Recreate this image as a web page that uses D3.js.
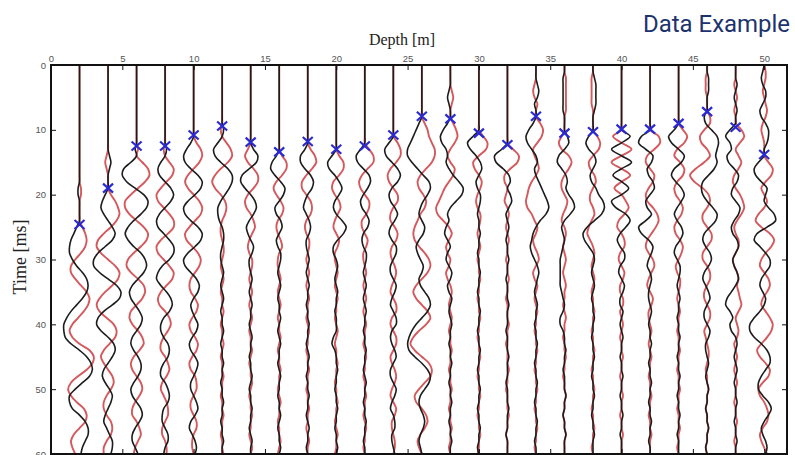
<!DOCTYPE html>
<html>
<head>
<meta charset="utf-8">
<script src="https://cdn.jsdelivr.net/npm/d3@7"></script>
<style>
  body { margin: 0; background: #fff; }
  svg { display: block; }
</style>
</head>
<body>
<svg width="795" height="455"></svg>
<script>
// receiver depths [m] and first-arrival picks [ms]
var depths = [2,4,6,8,10,12,14,16,18,20,22,24,26,28,30,32,34,36,38,40,42,44,46,48,50];
var pickTimes = [24.6,19,12.5,12.5,10.8,9.4,11.9,13.4,11.8,13,12.5,10.8,7.9,8.3,10.5,12.3,7.9,10.5,10.3,9.9,9.9,9,7.2,9.6,13.8];
var depthTicks = [0,5,10,15,20,25,30,35,40,45,50];
var timeTicks = [0,10,20,30,40,50,60];
// traces sampled every 1 ms from 0 to 60 ms, amplitude in tenths of a metre
var sampleTimes = d3.range(0, 61);

var blackTraces = [
  [0,0,0,0,0,0,0,0,0,0, 0,0,0,0,0,0,0,0,0,-1, -1,0,0,0,0,-2,-4,-6,-7,-7, -5,-2,2,5,6,5,2,-2,-6,-9, -11,-11,-10,-6,0,5,8,9,7,2, -3,-7,-7,-5,0,4,6,6,4,2, 1],
  [0,0,0,0,0,0,0,0,0,0, 0,0,0,0,1,2,1,0,0,0, -2,-4,-5,-3,0,3,5,3,-2,-7, -10,-10,-6,0,6,9,8,3,-3,-7, -8,-5,0,4,5,3,0,-3,-4,-2, 1,3,2,0,-2,-3,-1,1,3,3, 2],
  [0,0,0,0,0,0,0,0,0,0, 0,0,0,-1,0,-4,-9,-10,-7,-1, 5,8,7,3,-2,-6,-8,-6,-2,3, 6,7,5,1,-3,-5,-4,-1,2,4, 3,0,-3,-4,-2,1,3,3,1,-2, -4,-3,0,3,4,2,-1,-3,-3,-1, 1],
  [0,0,0,0,0,0,0,0,0,0, 0,0,0,1,0,-3,-5,-4,0,4, 6,4,0,-4,-6,-5,-1,3,6,6, 3,-2,-5,-6,-3,1,4,5,3,-1, -3,-3,-1,2,3,2,-1,-3,-3,0, 2,3,2,-1,-2,-2,0,2,2,0, -1],
  [0,0,0,0,0,0,0,0,0,0, 0,0,-2,-5,-7,-6,-2,3,6,5, 1,-4,-7,-6,-2,3,6,5,1,-4, -7,-6,-2,2,4,3,0,-2,-1,1, 3,2,-1,-3,-2,1,3,2,0,-2, -2,0,2,3,1,-2,-3,-1,1,2, 1],
  [0,0,0,0,0,0,0,0,0,0, 1,0,-3,-6,-5,-1,4,7,7,5, 2,-1,-3,-3,-2,0,1,1,0,-1, -1,0,1,0,-1,0,1,0,-1,0, 0,1,0,-1,0,0,1,0,0,-1, 0,0,1,0,0,-1,0,0,1,0, 0],
  [0,0,0,0,0,0,0,0,0,0, 0,0,0,2,5,4,-1,-6,-7,-4, 0,3,4,2,-1,-3,-2,0,2,1, -1,-1,0,1,0,-1,0,1,0,0, -1,0,1,0,0,-1,0,0,1,0, -1,0,0,1,0,0,-1,0,1,0, 0],
  [0,0,0,0,0,0,0,0,0,0, 0,0,0,0,-2,-5,-6,-3,1,4, 3,0,-3,-2,1,2,0,-2,-1,1, 1,0,-1,0,1,0,-1,0,0,1, 0,-1,0,1,0,0,-1,0,1,0, 0,-1,0,0,1,0,-1,0,0,1, 0],
  [0,0,0,0,0,0,0,0,0,0, 0,0,0,-2,-5,-5,-2,2,4,3, 0,-2,-3,-1,1,2,1,-1,-1,0, 1,0,-1,0,1,0,0,-1,0,0, 1,0,0,-1,0,1,0,0,-1,0, 0,1,0,0,-1,0,1,0,0,-1, 0],
  [0,0,0,0,0,0,0,0,0,0, 0,0,0,0,-3,-6,-5,-1,2,4, 2,-1,-2,0,4,7,5,1,-2,-2, 0,1,0,-1,0,1,0,0,-1,0, 0,0,-2,-3,-1,0,0,1,0,0, -1,0,0,1,0,0,-1,0,0,1, 0],
  [0,0,0,0,0,0,0,0,0,0, 0,0,0,-3,-6,-5,-1,3,4,2, -1,-3,-2,1,3,2,-1,-2,-1,1, 1,0,-1,0,1,0,-1,0,1,0, 0,-1,0,0,1,0,0,-1,0,1, 0,0,-1,0,0,1,0,0,-1,0, 0],
  [0,0,0,0,0,0,0,0,0,0, 0,0,-3,-6,-5,-1,3,5,3,-1, -3,-2,1,3,1,-2,-3,-1,2,2, 0,-2,-2,0,2,1,-1,-2,0,2, 2,-1,-2,-1,1,2,0,-2,-2,0, 2,1,-1,-2,0,1,1,-1,-1,0, 1],
  [0,0,0,0,0,0,0,0,0,-2, -4,-6,-8,-10,-10,-7,-3,1,5,6, 4,1,-1,-2,0,2,1,-2,-4,-3, -1,1,0,-2,-1,2,5,6,4,0, -4,-7,-9,-10,-9,-5,0,4,6,5, 2,-1,-2,-1,1,2,1,-1,-2,-1, 0],
  [0,0,0,0,-1,-2,-1,0,0,-2, -5,-7,-6,-3,-2,-3,-1,2,6,9, 8,4,0,-2,-1,-3,-4,-2,0,-2, -3,-1,1,0,-2,-1,1,0,-1,0, 1,0,0,-1,0,0,1,0,0,-1, 0,0,1,0,0,-1,0,0,1,0, 0],
  [0,0,0,0,0,0,0,0,0,0, 0,-4,-8,-6,-2,1,2,0,-2,-1, 1,1,0,-1,0,0,1,0,0,-1, 0,0,1,0,0,-1,0,0,1,0, 0,-1,0,0,1,0,0,-1,0,0, 1,0,0,-1,0,0,1,0,0,-1, 0],
  [0,0,0,0,0,0,0,0,0,0, 0,0,0,-4,-9,-8,-3,1,2,0, 2,3,1,-1,0,1,0,-1,0,0, 1,0,0,-1,0,0,0,1,0,0, 0,-1,0,0,0,1,0,0,0,-1, 0,0,0,1,0,0,0,-1,0,0, 0],
  [0,0,0,1,2,1,-1,0,0,-2, -5,-7,-6,-3,0,1,-1,0,2,4, 6,8,9,7,3,0,-2,-3,-4,-3, -1,1,2,1,0,-1,0,1,0,0, -1,0,0,1,0,0,-1,0,0,1, 0,0,-1,0,0,1,0,0,-1,0, 0],
  [0,0,-1,-1,-1,-1,-1,-1,0,0, 0,2,3,0,-4,-5,-2,1,2,1, 3,6,7,4,0,-2,-1,0,-1,-2, -3,-3,-3,-3,-3,-2,-1,0,-1,-3, -3,-1,0,0,1,0,0,-1,0,0, 0,1,0,0,-1,0,0,1,0,0, 0],
  [0,0,1,2,2,2,2,1,0,0, 0,-3,-5,-3,1,2,0,-2,-1,2, 4,7,8,6,1,-4,-7,-6,-3,0, 1,0,-1,0,1,0,-1,0,0,1, 0,0,-1,0,0,1,0,0,-1,0, 0,1,0,0,-1,0,0,1,0,0, 0],
  [0,0,0,0,0,0,0,0,0,0, 0,6,0,-7,0,7,0,-6,0,5, 0,-7,-4,3,6,3,-1,-3,-1,2, 2,-1,-2,0,2,1,-1,-1,1,0, -1,0,1,0,0,-1,0,0,1,0, 0,-1,0,0,1,0,0,-1,0,0, 0],
  [0,0,0,0,0,0,0,0,0,0, 0,-6,-8,-3,2,1,-2,-1,2,3, 0,-3,-2,1,-3,-8,-6,-1,2,1, -1,-2,0,1,0,-1,-1,0,1,0, -1,0,0,1,0,0,-1,0,0,1, 0,0,-1,0,0,1,0,0,-1,0, 0],
  [0,0,0,0,0,0,0,0,0,0, -3,-7,-5,0,4,2,-3,-5,-2,2, 4,2,-1,-3,-1,2,3,1,-2,-3, -1,1,1,0,-1,0,1,0,0,-1, 0,0,1,0,0,-1,0,0,1,0, 0,-1,0,0,1,0,0,-1,0,0, 0],
  [0,0,1,1,1,0,0,0,-2,-1, 3,7,8,7,6,7,5,1,-3,-4, -3,0,4,7,6,2,-2,-3,-1,2, 3,1,-2,-3,-1,1,2,0,-2,-2, 0,2,1,-1,-1,0,1,0,-1,0, 1,0,0,-1,0,0,1,0,0,-1, 0],
  [0,0,0,1,0,-1,0,1,0,0, -4,-7,-4,-3,-6,-5,-1,2,1,-2, -3,0,3,2,-1,-3,-2,1,2,0, -2,-1,1,2,0,-3,-6,-7,-4,-2, -4,-3,0,1,0,-1,0,1,0,-1, 0,0,1,0,0,-1,0,0,1,0, 0],
  [0,-1,-2,-1,1,1,-1,-3,-2,1, 3,3,2,0,0,-4,-7,-6,-2,2, 1,0,3,7,8,2,-5,-7,-3,1, 4,4,1,-2,-3,-1,1,0,-3,-7, -10,-10,-7,-2,2,4,4,1,-2,-4, -4,-1,3,5,3,0,-2,-1,1,2, 1]
];

var redTraces = [
  [0,0,0,0,0,0,0,0,0,0, 0,0,0,0,0,0,0,0,0,1, 1,0,0,0,0,2,4,5,4,1, -3,-6,-6,-3,1,5,7,6,3,-1, -5,-7,-5,0,7,10,9,5,-1,-6, -8,-6,-2,3,5,4,0,-4,-6,-5, -3],
  [0,0,0,0,0,0,0,0,0,0, 0,0,0,0,-1,-2,-1,0,0,0, 2,5,7,8,6,2,-3,-7,-8,-5, 0,5,8,7,3,-2,-6,-8,-6,-1, 4,6,5,1,-3,-5,-3,0,3,4, 2,-1,-3,-3,-1,2,3,2,-1,-3, -3],
  [0,0,0,0,0,0,0,0,0,0, 0,0,0,1,0,4,8,9,6,1, -4,-8,-8,-5,0,5,8,7,3,-2, -6,-7,-4,1,5,6,4,0,-4,-5, -3,1,4,5,2,-2,-4,-3,0,3, 4,2,-1,-3,-3,0,2,3,1,-1, -2],
  [0,0,0,0,0,0,0,0,0,0, 0,0,0,-1,0,3,6,5,1,-3, -6,-5,-1,3,6,6,2,-3,-6,-5, -1,3,6,5,1,-3,-5,-4,0,3, 4,2,-1,-3,-3,0,2,3,1,-2, -3,-1,1,2,2,0,-2,-2,0,1, 1],
  [0,0,0,0,0,0,0,0,0,0, 0,0,2,5,6,4,0,-4,-6,-4, 0,4,6,5,1,-3,-6,-5,-1,3, 5,4,1,-2,-3,-2,1,3,2,-1, -3,-2,1,3,2,-1,-3,-2,1,2, 2,0,-2,-2,0,2,2,0,-1,-1, 0],
  [0,0,0,0,0,0,0,0,0,0, -1,0,3,6,7,4,-1,-5,-7,-5, -1,2,3,2,0,-1,-1,0,1,1, 0,-1,0,1,0,-1,0,0,1,0, -1,0,0,1,0,-1,0,0,1,0, 0,-1,0,0,1,0,0,-1,0,0, 1],
  [0,0,0,0,0,0,0,0,0,0, 0,0,0,-2,-4,-2,2,5,5,2, -2,-4,-3,0,2,3,1,-1,-2,-1, 1,1,0,-1,0,1,0,-1,0,1, 0,-1,0,0,1,0,-1,0,0,1, 0,-1,0,0,1,0,0,-1,0,1, 0],
  [0,0,0,0,0,0,0,0,0,0, 0,0,0,0,2,5,5,2,-2,-4, -2,1,3,2,-1,-2,-1,1,2,0, -1,-1,0,1,0,-1,0,1,0,-1, 0,0,1,0,-1,0,0,1,0,0, -1,0,1,0,0,-1,0,0,1,0, -1],
  [0,0,0,0,0,0,0,0,0,0, 0,0,0,2,5,6,3,-1,-4,-4, -1,2,3,2,-1,-2,-1,1,1,0, -1,0,1,0,-1,0,1,0,0,-1, 0,1,0,0,-1,0,0,1,0,0, -1,0,0,1,0,0,-1,0,1,0, 0],
  [0,0,0,0,0,0,0,0,0,0, 0,0,0,0,2,5,5,2,-2,-3, -1,2,3,1,-1,-2,0,2,1,-1, -1,0,1,0,-1,0,1,0,0,-1, 0,1,0,-1,0,0,1,0,0,-1, 0,0,1,0,0,-1,0,1,0,0, -1],
  [0,0,0,0,0,0,0,0,0,0, 0,0,0,3,6,6,2,-2,-4,-3, 0,3,3,1,-2,-2,0,2,1,-1, -1,0,1,0,-1,0,1,0,-1,0, 1,0,0,-1,0,1,0,0,-1,0, 0,1,0,0,-1,0,1,0,0,-1, 0],
  [0,0,0,0,0,0,0,0,0,0, 0,0,3,5,5,2,-2,-4,-3,0, 3,3,0,-2,-2,1,3,2,-1,-2, -1,1,2,1,-1,-2,0,2,2,-1, -2,0,2,2,0,-2,-1,1,2,1, -1,-2,0,2,1,-1,-1,0,1,1, 0],
  [0,0,0,0,0,0,0,0,0,2, 4,5,7,9,9,7,3,-1,-3,-2, 1,3,2,-1,-3,-5,-6,-5,-2,2, 5,6,4,0,-4,-6,-4,0,4,6, 3,-2,-6,-8,-5,0,5,7,6,2, -2,-5,-4,0,3,4,2,-1,-3,-2, 0],
  [0,0,0,0,1,2,1,0,0,2, 4,5,3,0,-2,0,3,2,-1,-4, -6,-8,-10,-9,-5,-1,1,-1,-3,-2, 0,-1,-3,-2,0,1,0,-1,0,1, 0,-1,0,0,1,0,0,-1,0,0, 1,0,0,-1,0,0,1,0,0,-1, 0],
  [0,0,0,0,0,0,0,0,0,0, 0,3,6,5,0,-4,-3,0,2,1, -1,-2,-1,1,1,0,-1,0,1,0, -1,0,0,1,0,0,-1,0,0,1, 0,0,-1,0,0,1,0,0,-1,0, 0,1,0,0,-1,0,0,1,0,0, -1],
  [0,0,0,0,0,0,0,0,0,0, 0,0,0,4,8,7,2,-2,-2,0, -1,-2,0,1,0,-1,0,1,0,0, -1,0,0,1,0,0,-1,0,0,0, 1,0,0,-1,0,0,0,1,0,0, -1,0,0,0,1,0,0,-1,0,0, 0],
  [0,0,0,-1,-2,-1,1,0,0,3, 5,4,1,-2,-1,1,2,0,-3,-5, -6,-7,-6,-3,-1,1,0,-2,-1,1, 2,0,-2,-1,1,0,-1,0,1,0, 0,-1,0,0,1,0,0,-1,0,0, 1,0,0,-1,0,0,1,0,0,-1, 0],
  [0,0,1,1,1,1,1,1,0,0, 0,-2,-4,-2,3,5,3,0,-2,-2, 0,2,1,-1,-2,0,1,0,-1,0, 1,0,-1,0,1,0,0,-1,0,1, 0,0,-1,0,0,1,0,0,-1,0, 0,1,0,0,-1,0,0,1,0,0, 0],
  [0,0,-1,-1,-1,-1,-1,0,0,0, 0,3,5,4,0,-3,-2,1,2,0, -2,-2,0,1,-1,-3,-4,-2,0,1, 0,-1,0,1,0,-1,0,0,1,0, 0,-1,0,0,1,0,0,-1,0,0, 1,0,0,-1,0,0,1,0,0,-1, 0],
  [0,0,0,0,0,0,0,0,0,0, 0,-6,0,7,0,-7,0,6,0,-5, 0,3,5,2,-2,-3,0,2,2,-1, -2,0,2,1,-1,-1,1,1,-1,0, 1,0,-1,0,0,1,0,0,-1,0, 0,1,0,0,-1,0,0,1,0,0, 0],
  [0,0,0,0,0,0,0,0,0,0, 0,6,7,3,-2,-3,0,3,2,-1, -3,-2,2,5,6,4,1,-2,-3,-1, 2,3,1,-1,-2,0,2,1,-1,-1, 0,1,0,-1,0,1,0,0,-1,0, 0,1,0,0,-1,0,0,1,0,0, 0],
  [0,0,0,0,0,0,0,0,0,0, 3,6,4,-1,-3,1,4,3,-1,-3, -2,1,3,2,-1,-3,-2,1,3,2, 0,-2,-1,1,1,0,-1,0,1,0, 0,-1,0,0,1,0,0,-1,0,0, 1,0,0,-1,0,0,1,0,0,-1, 0],
  [0,0,-1,-1,-1,0,0,0,2,2, -2,-5,-4,0,2,-2,-8,-12,-9,-3, 1,2,0,-3,-3,0,3,3,0,-3, -3,0,2,2,0,-2,-2,0,2,2, 0,-2,-1,0,1,1,0,-1,0,0, 1,0,0,-1,0,0,1,0,0,-1, 0],
  [0,0,0,-1,0,1,0,-1,0,0, 4,6,3,0,2,4,2,-1,-2,0, 3,5,6,4,1,-1,0,2,2,0, -2,-1,1,2,1,2,3,4,2,0, 1,2,1,-1,0,1,0,-1,0,1, 0,0,-1,0,0,1,0,0,-1,0, 0],
  [0,1,1,0,-1,0,1,2,1,-1, -2,-1,0,0,0,3,6,5,1,-2, 0,2,0,-4,-6,-2,4,7,5,1, -2,-3,0,3,4,2,-1,-2,1,4, 6,5,2,-2,-5,-3,1,4,3,-1, -4,-3,0,2,3,2,-1,-3,-2,0, 2]
];

var svg = d3.select("svg");

// plot frame in pixels
var plotLeft = 51, plotTop = 65, plotRight = 787, plotBottom = 454;

var x = d3.scaleLinear().domain([0, 51.6]).range([plotLeft, plotRight]);
var y = d3.scaleLinear().domain([0, 60]).range([plotTop, plotBottom]);
// trace amplitude (tenths of a metre) -> depth offset
var amp = d3.scaleLinear().domain([-10, 10]).range([-1, 1]);

svg.append("defs").append("clipPath").attr("id", "plot-clip")
  .append("rect")
  .attr("x", plotLeft).attr("y", plotTop)
  .attr("width", plotRight - plotLeft).attr("height", plotBottom - plotTop);

var plot = svg.append("g").attr("id", "plot").attr("clip-path", "url(#plot-clip)");

var traceLine = function(depth)
{
  return d3.line()
    .x(function(v) { return x(depth + amp(v)); })
    .y(function(v, i) { return y(sampleTimes[i]); })
    .curve(d3.curveCatmullRom.alpha(0.5));
};

//red traces underneath, black on top
depths.forEach(function(d, i)
{
  plot.append("path")
    .attr("d", traceLine(d)(redTraces[i]))
    .attr("fill", "none")
    .attr("stroke", "#d4585c")
    .attr("stroke-width", 1.9)
    .attr("stroke-linejoin", "round");
});
depths.forEach(function(d, i)
{
  plot.append("path")
    .attr("d", traceLine(d)(blackTraces[i]))
    .attr("fill", "none")
    .attr("stroke", "#1c1c1c")
    .attr("stroke-width", 1.6)
    .attr("stroke-linejoin", "round");
});

//first-arrival picks
plot.selectAll("path.pick")
  .data(depths)
  .enter().append("path")
  .attr("class", "pick")
  .attr("transform", function(d, i) { return "translate(" + x(d) + "," + y(pickTimes[i]) + ")"; })
  .attr("d", "M-5,-4.5L5,4.5M-5,4.5L5,-4.5")
  .attr("stroke", "#2a2ad2")
  .attr("stroke-width", 2.2)
  .attr("fill", "none");

//axes, ticks pointing inward on all four sides
var styleAxis = function(g)
{
  g.select(".domain").remove();
  g.selectAll(".tick line").attr("stroke", "#111");
  g.selectAll(".tick text")
    .attr("fill", "#555")
    .style("font-family", "'Liberation Sans', Arial, sans-serif")
    .style("font-size", "9.5px");
};

svg.append("g")
  .attr("transform", "translate(0," + plotTop + ")")
  .call(d3.axisTop(x).tickValues(depthTicks).tickSizeInner(-5).tickSizeOuter(0).tickPadding(3))
  .call(styleAxis);

svg.append("g")
  .attr("transform", "translate(0," + plotBottom + ")")
  .call(d3.axisBottom(x).tickValues(depthTicks).tickSizeInner(-5).tickSizeOuter(0).tickFormat(""))
  .call(styleAxis);

svg.append("g")
  .attr("transform", "translate(" + plotLeft + ",0)")
  .call(d3.axisLeft(y).tickValues(timeTicks).tickSizeInner(-5).tickSizeOuter(0).tickPadding(5))
  .call(styleAxis);

svg.append("g")
  .attr("transform", "translate(" + plotRight + ",0)")
  .call(d3.axisRight(y).tickValues(timeTicks).tickSizeInner(-5).tickSizeOuter(0).tickFormat(""))
  .call(styleAxis);

svg.append("rect")
  .attr("x", plotLeft).attr("y", plotTop)
  .attr("width", plotRight - plotLeft).attr("height", plotBottom - plotTop)
  .attr("fill", "none")
  .attr("stroke", "#111")
  .attr("stroke-width", 2);

//labels
svg.append("text")
  .attr("x", 402).attr("y", 45)
  .attr("text-anchor", "middle")
  .style("font-family", "'Liberation Serif', 'Times New Roman', serif")
  .style("font-size", "16px")
  .attr("fill", "#222")
  .text("Depth [m]");

svg.append("text")
  .attr("transform", "translate(26,257) rotate(-90)")
  .attr("text-anchor", "middle")
  .style("font-family", "'Liberation Serif', 'Times New Roman', serif")
  .style("font-size", "18px")
  .attr("fill", "#222")
  .text("Time [ms]");

svg.append("text")
  .attr("x", 790).attr("y", 32)
  .attr("text-anchor", "end")
  .attr("textLength", 147)
  .attr("lengthAdjust", "spacingAndGlyphs")
  .style("font-family", "'Liberation Sans Narrow', 'Roboto', 'Liberation Sans', sans-serif")
  .style("font-size", "24px")
  .attr("fill", "#1d336e")
  .text("Data Example");
</script>
</body>
</html>
